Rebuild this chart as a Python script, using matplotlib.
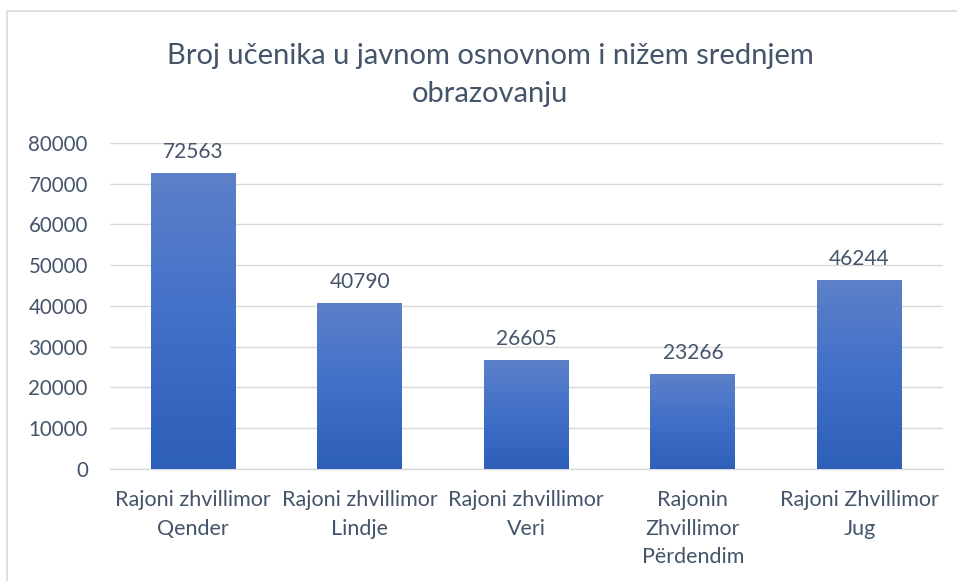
"""
Broj učenika u javnom osnovnom i nižem srednjem obrazovanju - bar chart
"""

import numpy as np
import matplotlib
matplotlib.use("Agg")
import matplotlib.pyplot as plt
from matplotlib.patches import Rectangle
from matplotlib.colors import LinearSegmentedColormap

categories = [
    "Rajoni zhvillimor\nQender",
    "Rajoni zhvillimor\nLindje",
    "Rajoni zhvillimor\nVeri",
    "Rajonin\nZhvillimor\nPërdendim",
    "Rajoni Zhvillimor\nJug",
]
students = [72563, 40790, 26605, 23266, 46244]
y_ticks = [0, 10000, 20000, 30000, 40000, 50000, 60000, 70000, 80000]

TEXT = "#44546a"
GRID = "#d9d9d9"

plt.rcParams["font.family"] = ["Lato", "DejaVu Sans"]

fig = plt.figure(figsize=(9.57, 5.81), dpi=100)
ax = fig.add_axes([0.115, 0.193, 0.87, 0.561])

# outer chart frame (cut by the image edges like the screenshot)
fig.patches.append(Rectangle((7 / 957, -0.1), 1.1, 1 - 11 / 581 + 0.1,
                             transform=fig.transFigure, fill=False,
                             edgecolor=GRID, linewidth=1.2))

x = np.arange(len(categories))
bars = ax.bar(x, students, width=0.51, color="none", zorder=3)

# vertical gradient inside each bar
cmap = LinearSegmentedColormap.from_list("grad", ["#2e5fb9", "#4070c8", "#5d80c9"])
grad = np.linspace(0, 1, 256).reshape(-1, 1)
for b in bars:
    x0, w, h = b.get_x(), b.get_width(), b.get_height()
    im = ax.imshow(grad, cmap=cmap, aspect="auto", origin="lower",
                   extent=[x0, x0 + w, 0, h], zorder=3)
    im.set_clip_path(b)

for xi, v in zip(x, students):
    ax.annotate(str(v), (xi, v), xytext=(0, 8), textcoords="offset points",
                ha="center", va="bottom", fontsize=15, color=TEXT)

ax.set_xlim(-0.5, len(categories) - 0.5)
ax.set_ylim(0, 80000)
ax.set_yticks(y_ticks)
ax.set_xticks(x)
ax.set_xticklabels(categories, fontsize=15.5, color=TEXT, linespacing=1.55)
ax.tick_params(axis="y", labelsize=14.8, labelcolor=TEXT, length=0, pad=16)
ax.tick_params(axis="x", length=0, pad=15)
for lab in ax.get_xticklabels():
    lab.set_verticalalignment("top")

ax.grid(axis="y", color=GRID, linewidth=1, zorder=0)
for s in ["top", "right", "left"]:
    ax.spines[s].set_visible(False)
ax.spines["bottom"].set_color(GRID)
ax.spines["bottom"].set_linewidth(1)

fig.text(0.512, 0.871, "Broj učenika u javnom osnovnom i nižem srednjem\nobrazovanju",
         ha="center", va="center", fontsize=21, color=TEXT, linespacing=1.6)

fig.savefig("out.png", dpi=100)
